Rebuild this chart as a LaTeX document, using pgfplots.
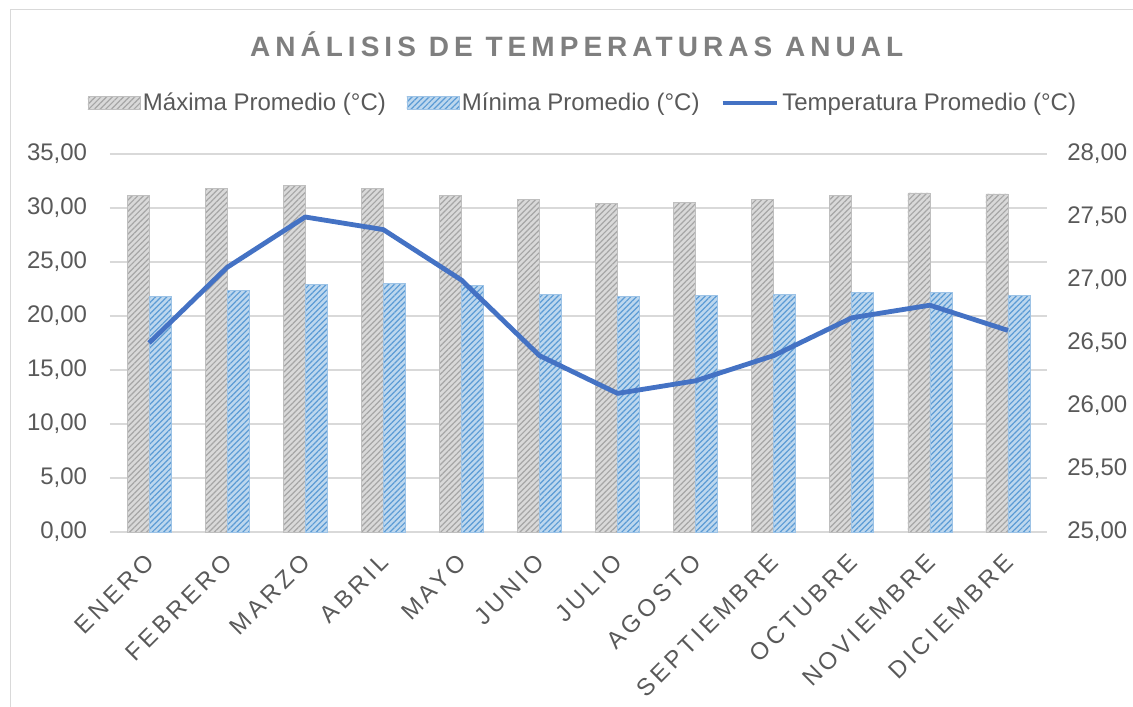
\documentclass[border=0pt]{standalone}
\usepackage{pgfplots}
\pgfplotsset{compat=1.18}
\usepackage{fontspec}
\setmainfont{Liberation Sans}
\newfontfamily\spacedfont[LetterSpace=16]{Liberation Sans}
\newfontfamily\titlefont[LetterSpace=18]{Liberation Sans}
\usetikzlibrary{patterns.meta}
\definecolor{txt}{HTML}{595959}
\definecolor{titlec}{HTML}{7F7F7F}
\definecolor{gridc}{HTML}{D9D9D9}
\definecolor{maxfill}{HTML}{D9D9D9}
\definecolor{maxline}{HTML}{A6A6A6}
\definecolor{maxdraw}{HTML}{BFBFBF}
\definecolor{minfill}{HTML}{BDD7EE}
\definecolor{minline}{HTML}{5B9BD5}
\definecolor{mindraw}{HTML}{9DC3E6}
\definecolor{linec}{HTML}{4472C4}
\pgfplotsset{
  maxstyle/.style={fill=maxfill, draw=maxdraw, line width=0.5pt,
    postaction={pattern color=maxline, pattern={Lines[angle=45,distance=3pt,line width=0.9pt]}}},
  minstyle/.style={fill=minfill, draw=mindraw, line width=0.5pt,
    postaction={pattern color=minline, pattern={Lines[angle=45,distance=3pt,line width=0.9pt]}}},
  rectlegend/.style={legend image code/.code={\draw[##1] (0pt,-5pt) rectangle (39pt,5pt);}},
  linelegend/.style={legend image code/.code={\draw[##1] (0pt,0pt) -- (41pt,0pt);}},
}
\pgfplotstableread{
x maxp minp
0 31.2 21.8
1 31.8 22.4
2 32.1 22.9
3 31.8 23.0
4 31.2 22.8
5 30.8 22.0
6 30.4 21.8
7 30.5 21.9
8 30.8 22.0
9 31.2 22.2
10 31.4 22.2
11 31.3 21.9
}\bartable
\pgfplotstableread{
x avg
0 26.5
1 27.1
2 27.5
3 27.4
4 27.0
5 26.4
6 26.1
7 26.2
8 26.4
9 26.7
10 26.8
11 26.6
}\linetable
\begin{document}
\begin{tikzpicture}
\useasboundingbox (-82.5pt,-131.25pt) rectangle (767.25pt,399pt);
\draw[gridc, line width=1.2pt] (-74.6pt,-140pt) -- (-74.6pt,391.9pt) -- (775pt,391.9pt);
\node[anchor=base, font=\titlefont\bfseries\fontsize{21}{25}\selectfont, text=titlec] at (350pt,356.5pt) {ANÁLISIS DE TEMPERATURAS ANUAL};
\begin{axis}[
  at={(0pt,0pt)}, anchor=south west,
  scale only axis, width=702.75pt, height=283.5pt,
  xmin=-0.5, xmax=11.5, ymin=0, ymax=35,
  ytick distance=5,
  xtick={0,...,11},
  xticklabels={ENERO,FEBRERO,MARZO,ABRIL,MAYO,JUNIO,JULIO,AGOSTO,SEPTIEMBRE,OCTUBRE,NOVIEMBRE,DICIEMBRE},
  ybar=0pt, bar width=0.282,
  axis line style={draw=none},
  major tick length=0pt,
  ymajorgrids, grid style={gridc, line width=1.1pt},
  tick label style={font=\fontsize{18}{21}\selectfont, text=txt},
  xticklabel style={font=\spacedfont\fontsize{18}{21}\selectfont, rotate=45, anchor=east, inner sep=0pt, xshift=-13.5pt, yshift=-14.5pt},
  yticklabel style={inner sep=0pt, xshift=-17pt},
  /pgf/number format/.cd, fixed, fixed zerofill, precision=2, use comma, assume math mode=true,
]
\addplot[maxstyle] table[x=x, y=maxp] {\bartable};
\addplot[minstyle] table[x=x, y=minp] {\bartable};
\end{axis}
\begin{axis}[
  at={(0pt,0pt)}, anchor=south west,
  scale only axis, width=702.75pt, height=283.5pt,
  xmin=-0.5, xmax=11.5, ymin=25, ymax=28,
  ytick distance=0.5,
  axis y line*=right, axis x line=none,
  axis line style={draw=none},
  major tick length=0pt,
  xtick=\empty,
  tick label style={font=\fontsize{18}{21}\selectfont, text=txt},
  yticklabel style={inner sep=0pt, xshift=15pt},
  legend columns=3,
  legend style={at={(0.505,1.135)}, anchor=center, draw=none, fill=none,
    font=\fontsize{18}{21}\selectfont, text=txt, inner sep=0pt,
    nodes={inner sep=2pt},
    /tikz/every even column/.style={column sep=13.5pt}},
  /pgf/number format/.cd, fixed, fixed zerofill, precision=2, use comma, assume math mode=true,
]
\addlegendimage{rectlegend, maxstyle}
\addlegendentry{Máxima Promedio (°C)}
\addlegendimage{rectlegend, minstyle}
\addlegendentry{Mínima Promedio (°C)}
\addplot[linec, line width=3.6pt, line join=round, mark=none, linelegend] table[x=x, y=avg] {\linetable};
\addlegendentry{Temperatura Promedio (°C)}
\end{axis}
\end{tikzpicture}
\end{document}
